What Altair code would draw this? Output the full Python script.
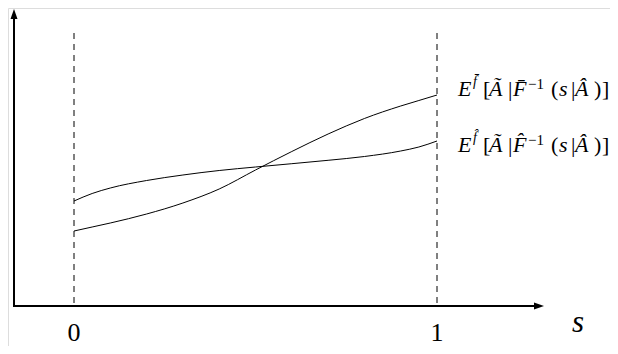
import altair as alt
import pandas as pd

# ---------------- data ----------------
S_GRID = [0, 0.05, 0.1, 0.2, 0.3, 0.4, 0.5, 0.6, 0.7, 0.8, 0.9, 0.95, 1.0]
E_BAR = [0.75, 0.79, 0.83, 0.92, 1.03, 1.17, 1.36, 1.545, 1.72, 1.875, 2.0, 2.055, 2.11]
E_HAT = [1.05, 1.125, 1.18, 1.255, 1.31, 1.355, 1.39, 1.423, 1.457, 1.495, 1.55, 1.59, 1.65]

DASH_S = [0, 1]
TICK_LABELS = ["0", "1"]
AXIS_TITLE = "s"

LABEL_BAR = ["E", "f\u0304", "[", "\u00c3", "|", "F\u0304", "\u22121", "(", "s", "|", "\u00c2", ")", "]"]
LABEL_HAT = ["E", "f\u0302", "[", "\u00c3", "|", "F\u0302", "\u22121", "(", "s", "|", "\u00c2", ")", "]"]

# ---------------- layout ----------------
FONT = "Liberation Serif, Times New Roman, serif"
W, H = 602, 338
PX = 363.0          # pixels per unit of s
PY = 100.0          # pixels per unit of value
X0, X1 = -66 / PX, (W - 66) / PX
Y0, Y1 = -(H - 298) / PY, 298 / PY

AXIS_S = -60 / PX
XARROW_S = (544 - 74) / PX
YARROW_V = (306 - 9) / PY
DASH_TOP = (306 - 33) / PY

SEG_ITALIC = [1, 1, 0, 1, 0, 1, 0, 0, 1, 0, 1, 0, 0]
SEG_SIZE = [22, 14, 22, 22, 22, 22, 15, 22, 22, 22, 22, 22, 22]
SEG_DX = [0, 15, 25, 31, 50, 55, 70, 93, 101, 113, 117, 136, 144]
SEG_RAISE = [0, 10, 0, 0, 0, 0, 7, 0, 0, 0, 0, 0, 0]
LABEL_X = (458 - 74) / PX
LABEL_Y = {"bar": (306 - 96) / PY, "hat": (306 - 152) / PY}

xs = alt.Scale(domain=[X0, X1], nice=False, zero=False)
ys = alt.Scale(domain=[Y0, Y1], nice=False, zero=False)

curves = pd.DataFrame({
    "s": S_GRID * 2,
    "v": E_BAR + E_HAT,
    "k": ["bar"] * len(S_GRID) + ["hat"] * len(S_GRID),
})

lines = alt.Chart(curves).mark_line(color="black", strokeWidth=1, interpolate="monotone").encode(
    x=alt.X("s:Q", scale=xs, axis=None),
    y=alt.Y("v:Q", scale=ys, axis=None),
    detail="k:N",
)

dash_df = pd.DataFrame({"s": DASH_S, "v0": [0, 0], "v1": [DASH_TOP, DASH_TOP]})
dashes = alt.Chart(dash_df).mark_rule(color="black", strokeWidth=1, strokeDash=[6, 5]).encode(
    x=alt.X("s:Q", scale=xs, axis=None),
    y=alt.Y("v1:Q", scale=ys, axis=None),
    y2="v0:Q",
)

xaxis = alt.Chart(pd.DataFrame({"a": [AXIS_S - 1 / PX], "b": [XARROW_S - 6 / PX], "v": [0]})).mark_rule(
    color="black", strokeWidth=2
).encode(x=alt.X("a:Q", scale=xs, axis=None), x2="b:Q", y=alt.Y("v:Q", scale=ys, axis=None))

yaxis = alt.Chart(pd.DataFrame({"s": [AXIS_S], "a": [-1 / PY], "b": [YARROW_V - 6 / PY]})).mark_rule(
    color="black", strokeWidth=2
).encode(x=alt.X("s:Q", scale=xs, axis=None), y=alt.Y("a:Q", scale=ys, axis=None), y2="b:Q")

xhead = alt.Chart(pd.DataFrame({"s": [XARROW_S - 5 / PX], "v": [0]})).mark_point(
    shape="M-1,-0.7L1,0L-1,0.7Z", size=100, filled=True, color="black", opacity=1, strokeWidth=0
).encode(x=alt.X("s:Q", scale=xs, axis=None), y=alt.Y("v:Q", scale=ys, axis=None))

yhead = alt.Chart(pd.DataFrame({"s": [AXIS_S], "v": [YARROW_V - 5 / PY]})).mark_point(
    shape="M-0.7,1L0,-1L0.7,1Z", size=100, filled=True, color="black", opacity=1, strokeWidth=0
).encode(x=alt.X("s:Q", scale=xs, axis=None), y=alt.Y("v:Q", scale=ys, axis=None))

ticks = alt.Chart(pd.DataFrame({"s": DASH_S, "t": TICK_LABELS, "v": [-35 / PY, -35 / PY]})).mark_text(
    font=FONT, fontSize=26, color="black", align="center", baseline="alphabetic"
).encode(x=alt.X("s:Q", scale=xs, axis=None), y=alt.Y("v:Q", scale=ys, axis=None), text="t:N")

stitle = alt.Chart(pd.DataFrame({"s": [(572 - 74) / PX], "v": [-(332 - 306) / PY], "t": [AXIS_TITLE]})).mark_text(
    font=FONT, fontStyle="italic", fontSize=31, color="black", align="left", baseline="alphabetic"
).encode(x=alt.X("s:Q", scale=xs, axis=None), y=alt.Y("v:Q", scale=ys, axis=None), text="t:N")

rows = []
for key, segs in (("bar", LABEL_BAR), ("hat", LABEL_HAT)):
    for t, it, fs, dx, rz in zip(segs, SEG_ITALIC, SEG_SIZE, SEG_DX, SEG_RAISE):
        rows.append({
            "t": t, "it": it, "fs": fs,
            "s": LABEL_X + dx / PX,
            "v": LABEL_Y[key] + rz / PY,
        })
seg_df = pd.DataFrame(rows)


def seg_layer(italic):
    return alt.Chart(seg_df[seg_df["it"] == italic]).mark_text(
        font=FONT, fontStyle="italic" if italic else "normal",
        color="black", align="left", baseline="alphabetic"
    ).encode(
        x=alt.X("s:Q", scale=xs, axis=None),
        y=alt.Y("v:Q", scale=ys, axis=None),
        text="t:N",
        size=alt.Size("fs:Q", scale=None, legend=None),
    )


chart = alt.layer(
    dashes, lines, xaxis, yaxis, xhead, yhead, ticks, stitle, seg_layer(1), seg_layer(0)
).properties(
    width=W, height=H, autosize=alt.AutoSizeParams(type="none"), padding=0
).configure_view(stroke=None).configure(background="white")

chart.save("out.html", embed_options={"renderer": "svg", "actions": False})
